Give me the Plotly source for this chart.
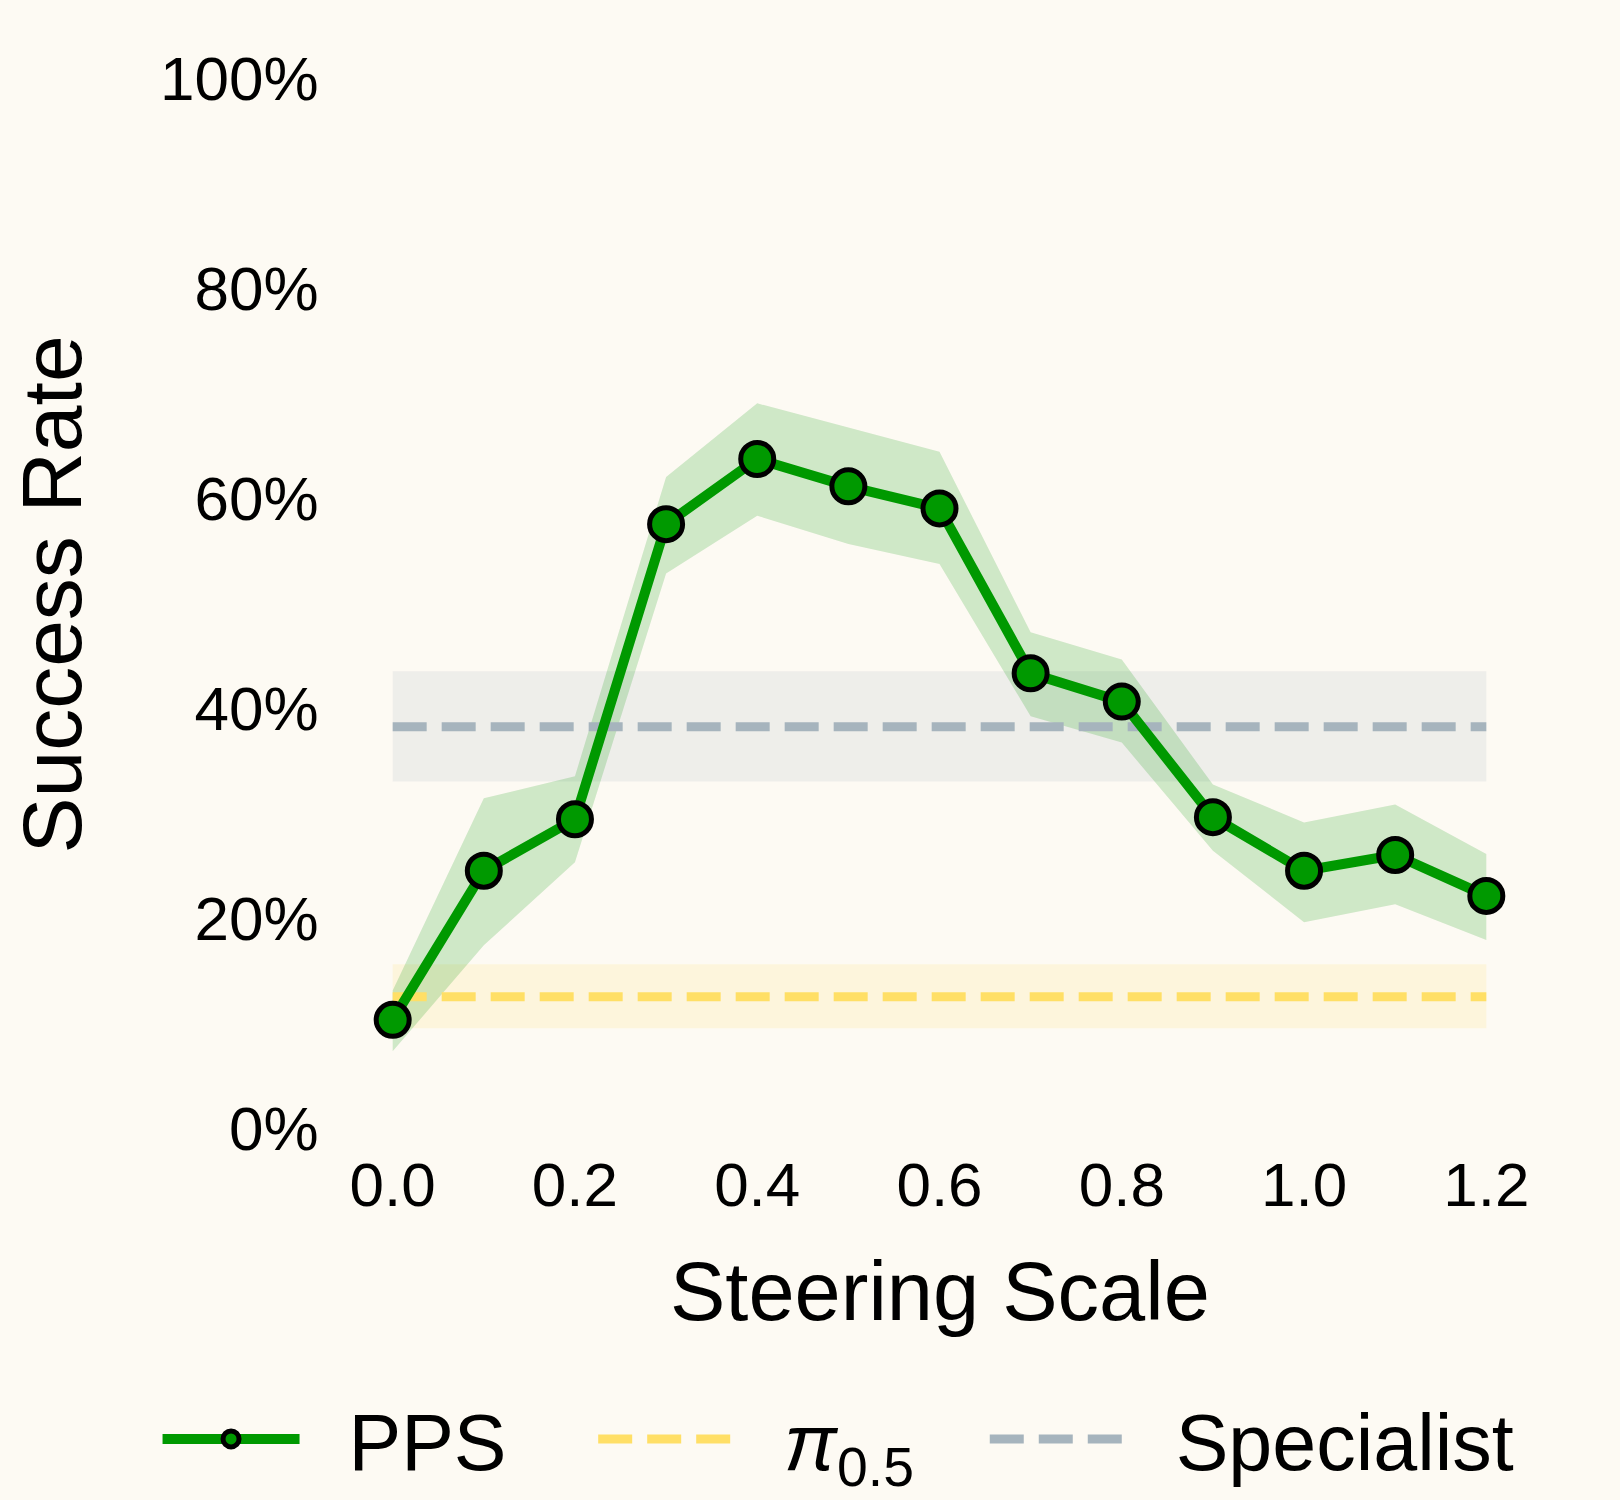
import plotly.graph_objects as go

# ---- data ----
steering_scale = [0.0, 0.1, 0.2, 0.3, 0.4, 0.5, 0.6, 0.7, 0.8, 0.9, 1.0, 1.1, 1.2]
pps_mean = [0.103, 0.245, 0.294, 0.575, 0.637, 0.611, 0.590, 0.433, 0.406, 0.296, 0.245, 0.260, 0.221]
pps_upper = [0.131, 0.314, 0.335, 0.620, 0.690, 0.667, 0.644, 0.472, 0.446, 0.327, 0.291, 0.308, 0.261]
pps_lower = [0.073, 0.174, 0.253, 0.528, 0.583, 0.556, 0.537, 0.392, 0.367, 0.264, 0.196, 0.213, 0.179]

baseline_x = [0.0, 1.2]
pi05_mean = 0.125
pi05_lower = 0.095
pi05_upper = 0.156
specialist_mean = 0.382
specialist_lower = 0.330
specialist_upper = 0.435

y_ticks = [0.0, 0.2, 0.4, 0.6, 0.8, 1.0]
y_tick_labels = ["0%", "20%", "40%", "60%", "80%", "100%"]
x_ticks = [0.0, 0.2, 0.4, 0.6, 0.8, 1.0, 1.2]
x_tick_labels = ["0.0", "0.2", "0.4", "0.6", "0.8", "1.0", "1.2"]

series_names = ["PPS", "<i>π</i><sub>0.5</sub>", "Specialist"]
x_title = "Steering Scale"
y_title = "Success Rate"

BG = "#FDFAF3"
GREEN = "#009900"
YELLOW = "#FFDF66"
GREY = "#A6B4BD"
FONT = "Liberation Sans"
NB = "\u00a0"
THIN = "\u2009"

fig = go.Figure()

# specialist band
fig.add_trace(go.Scatter(x=baseline_x, y=[specialist_lower] * 2, mode="lines",
                         line=dict(width=0), showlegend=False, hoverinfo="skip"))
fig.add_trace(go.Scatter(x=baseline_x, y=[specialist_upper] * 2, mode="lines",
                         line=dict(width=0), fill="tonexty",
                         fillcolor="rgba(167,180,188,0.17)", showlegend=False, hoverinfo="skip"))
# pi0.5 band
fig.add_trace(go.Scatter(x=baseline_x, y=[pi05_lower] * 2, mode="lines",
                         line=dict(width=0), showlegend=False, hoverinfo="skip"))
fig.add_trace(go.Scatter(x=baseline_x, y=[pi05_upper] * 2, mode="lines",
                         line=dict(width=0), fill="tonexty",
                         fillcolor="rgba(255,224,102,0.16)", showlegend=False, hoverinfo="skip"))
# PPS band
fig.add_trace(go.Scatter(x=steering_scale, y=pps_lower, mode="lines",
                         line=dict(width=0), showlegend=False, hoverinfo="skip",
                         cliponaxis=False))
fig.add_trace(go.Scatter(x=steering_scale, y=pps_upper, mode="lines",
                         line=dict(width=0), fill="tonexty",
                         fillcolor="rgba(0,150,0,0.18)", showlegend=False, hoverinfo="skip",
                         cliponaxis=False))

# baselines
fig.add_trace(go.Scatter(x=baseline_x, y=[pi05_mean] * 2, mode="lines",
                         line=dict(color=YELLOW, width=9, dash="34px,15px"),
                         name=NB * 2 + series_names[1] + NB * 3, legendrank=2))
fig.add_trace(go.Scatter(x=baseline_x, y=[specialist_mean] * 2, mode="lines",
                         line=dict(color=GREY, width=9, dash="34px,15px"),
                         name=NB * 2 + series_names[2], legendrank=3))
# PPS
fig.add_trace(go.Scatter(x=steering_scale, y=pps_mean, mode="lines+markers",
                         line=dict(color=GREEN, width=10),
                         marker=dict(color=GREEN, size=33, line=dict(color="black", width=5)),
                         name=NB * 2 + series_names[0] + NB * 3 + THIN, legendrank=1,
                         cliponaxis=False))

fig.update_layout(
    width=1620, height=1500,
    paper_bgcolor=BG, plot_bgcolor=BG,
    font=dict(family=FONT, color="black", size=62),
    margin=dict(l=338, r=79, t=61, b=372, autoexpand=False),
    xaxis=dict(range=[-0.06, 1.26], tickvals=x_ticks, ticktext=x_tick_labels,
               showgrid=False, zeroline=False, showline=False,
               ticks="outside", ticklen=3, tickcolor="rgba(0,0,0,0)",
               automargin=False, tickfont=dict(size=62)),
    yaxis=dict(range=[0.0, 1.016], tickvals=y_ticks, ticktext=y_tick_labels,
               showgrid=False, zeroline=False, showline=False,
               ticks="outside", ticklen=6, tickcolor="rgba(0,0,0,0)",
               automargin=False, tickfont=dict(size=62),
               title=dict(text=y_title, font=dict(size=84), standoff=50)),
    legend=dict(orientation="h", x=-0.15, xanchor="left",
                y=-0.2915, yanchor="middle",
                font=dict(size=79), bgcolor="rgba(0,0,0,0)", itemwidth=137,
                traceorder="normal"),
    annotations=[dict(text=x_title, xref="paper", yref="paper", x=0.5, y=-0.153,
                      xanchor="center", yanchor="middle", showarrow=False,
                      font=dict(size=83, family=FONT, color="black"))],
    showlegend=True,
)

fig.write_html(
    "out.html",
    config={"displayModeBar": False},
    post_script=(
        "document.documentElement.style.margin='0';"
        "document.documentElement.style.padding='0';"
        "document.documentElement.style.overflow='hidden';"
        "document.documentElement.style.background='%s';"
        "document.body.style.margin='0';"
        "document.body.style.padding='0';"
        "document.body.style.overflow='hidden';"
        "document.body.style.background='%s';" % (BG, BG)
    ),
)
